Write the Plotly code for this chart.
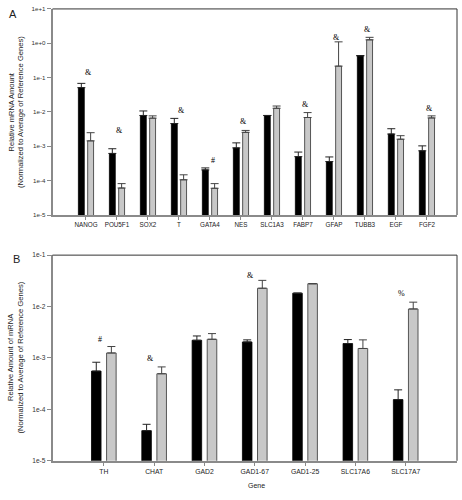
import numpy as np
import plotly.graph_objects as go

# ---------------- data ----------------
genes_a = ["NANOG", "POU5F1", "SOX2", "T", "GATA4", "NES", "SLC1A3", "FABP7",
           "GFAP", "TUBB3", "EGF", "FGF2"]
a_black = [0.051, 6.2e-4, 7.9e-3, 4.6e-3, 2.06e-4, 9.0e-4, 7.9e-3, 5.0e-4,
           3.6e-4, 0.43, 2.28e-3, 7.4e-4]
a_black_err = [0.017, 2.3e-4, 2.8e-3, 1.9e-3, 2.9e-5, 3.6e-4, 0.0, 1.8e-4,
               1.3e-4, 0.01, 9.7e-4, 2.9e-4]
a_grey = [1.44e-3, 6.1e-5, 6.6e-3, 1.06e-4, 6.0e-5, 2.55e-3, 1.28e-2, 6.9e-3,
          0.216, 1.26, 1.61e-3, 6.7e-3]
a_grey_err = [1.05e-3, 2.1e-5, 1.1e-3, 4.2e-5, 2.2e-5, 3.5e-4, 2.1e-3, 2.7e-3,
              0.884, 0.23, 4.3e-4, 1.0e-3]
sig_a = ["&", "&", "", "&", "#", "&", "", "&", "&", "&", "", "&"]
sig_a_y = [0.138, 2.84e-3, None, 1.1e-2, 3.74e-4, 5.4e-3, None, 1.63e-2,
           1.47, 2.44, None, 1.26e-2]

genes_b = ["TH", "CHAT", "GAD2", "GAD1-67", "GAD1-25", "SLC17A6", "SLC17A7"]
b_black = [5.56e-4, 3.86e-5, 2.21e-3, 2.05e-3, 1.82e-2, 1.91e-3, 1.55e-4]
b_black_err = [2.7e-4, 1.27e-5, 4.7e-4, 2.0e-4, 0.0, 3.7e-4, 8.5e-5]
b_grey = [1.25e-3, 4.93e-4, 2.31e-3, 2.27e-2, 2.78e-2, 1.53e-3, 8.97e-3]
b_grey_err = [4.2e-4, 1.77e-4, 6.7e-4, 9.6e-3, 0.0, 7.2e-4, 3.2e-3]
sig_b = ["#", "&", "", "&", "", "", "%"]
sig_b_y = [2.24e-3, 9.6e-4, None, 3.95e-2, None, None, 1.82e-2]

ytick_a = ["1e-5", "1e-4", "1e-3", "1e-2", "1e-1", "1e+0", "1e+1"]
ytick_b = ["1e-5", "1e-4", "1e-3", "1e-2", "1e-1"]

# ---------------- figure ----------------
W, H = 462, 500
FONT = "Liberation Sans, Arial, sans-serif"
fig = go.Figure()

BW = 0.19
OFF_BLACK = -0.245
OFF_GREY = 0.055


def add_pair(xa, ya, genes, black, black_err, grey, grey_err):
    x = list(range(len(genes)))
    fig.add_trace(go.Bar(
        x=x, y=black, width=BW, offset=OFF_BLACK,
        marker=dict(color="#000000", line=dict(color="#000000", width=0.8)),
        error_y=dict(type="data", array=black_err, symmetric=False,
                     arrayminus=[0] * len(black), color="#222222",
                     thickness=1, width=4),
        xaxis=xa, yaxis=ya, showlegend=False))
    fig.add_trace(go.Bar(
        x=x, y=grey, width=BW, offset=OFF_GREY,
        marker=dict(color="#c8c8c8", line=dict(color="#555555", width=1)),
        error_y=dict(type="data", array=grey_err, symmetric=False,
                     arrayminus=[0] * len(grey), color="#444444",
                     thickness=1, width=4),
        xaxis=xa, yaxis=ya, showlegend=False))


add_pair("x", "y", genes_a, a_black, a_black_err, a_grey, a_grey_err)
add_pair("x2", "y2", genes_b, b_black, b_black_err, b_grey, b_grey_err)

xl, xr = 52.5 / W, 457 / W
a_top, a_bot = 1 - 5 / H, 1 - 214 / H
b_top, b_bot = 1 - 254.7 / H, 1 - 463.3 / H

axis_common = dict(showgrid=False, zeroline=False, showline=True,
                   linecolor="#8a8a8a", linewidth=1.5, ticks="outside",
                   tickcolor="#8a8a8a", tickwidth=1)

fig.update_layout(
    width=W, height=H, margin=dict(l=0, r=0, t=0, b=0),
    paper_bgcolor="white", plot_bgcolor="white", barmode="overlay",
    font=dict(family=FONT, color="#222222"),
    xaxis=dict(domain=[xl, xr], anchor="y", range=[-1.08, 11.97],
               tickvals=list(range(len(genes_a))), ticktext=genes_a,
               ticklen=3, tickfont=dict(size=6.3, color="#222"), **axis_common),
    yaxis=dict(domain=[a_bot, a_top], anchor="x", type="log", range=[-5, 1],
               tickvals=[10.0 ** k for k in range(-5, 2)], ticktext=ytick_a,
               ticklen=4, tickfont=dict(size=6.2, color="#333"), **axis_common),
    xaxis2=dict(domain=[xl, xr], anchor="y2", range=[-1.02, 7.02],
                tickvals=list(range(len(genes_b))), ticktext=genes_b,
                ticklen=3, tickfont=dict(size=6.8, color="#222"), **axis_common),
    yaxis2=dict(domain=[b_bot, b_top], anchor="x2", type="log", range=[-5, -1],
                tickvals=[10.0 ** k for k in range(-5, 0)], ticktext=ytick_b,
                ticklen=4, tickfont=dict(size=6.6, color="#333"), **axis_common),
)

# top/right frame lines
for (yb, yt) in [(a_bot, a_top), (b_bot, b_top)]:
    fig.add_shape(type="line", xref="paper", yref="paper", x0=xl, x1=xr,
                  y0=yt, y1=yt, line=dict(color="#333333", width=1))
    fig.add_shape(type="line", xref="paper", yref="paper", x0=xr, x1=xr,
                  y0=yb, y1=yt, line=dict(color="#333333", width=1))

# significance marks
for i, (s, v) in enumerate(zip(sig_a, sig_a_y)):
    if s and v is not None:
        fig.add_annotation(x=i, y=np.log10(v), xref="x", yref="y", text=s,
                           showarrow=False, xshift=3,
                           xanchor="center", yanchor="middle",
                           font=dict(family="Liberation Serif, serif",
                                     size=8, color="#000000"))
for i, (s, v) in enumerate(zip(sig_b, sig_b_y)):
    if s and v is not None:
        fig.add_annotation(x=i, y=np.log10(v), xref="x2", yref="y2", text=s,
                           showarrow=False, xshift=-4,
                           xanchor="center", yanchor="middle",
                           font=dict(family="Liberation Serif, serif",
                                     size=8, color="#000000"))

# axis titles and panel letters
def paper_text(x_px, y_px, text, size, angle=0, **kw):
    fig.add_annotation(x=x_px / W, y=1 - y_px / H, xref="paper", yref="paper",
                       text=text, showarrow=False, textangle=angle,
                       xanchor="center", yanchor="middle",
                       font=dict(family=FONT, size=size, color="#222"), **kw)

paper_text(11, 110, "Relative mRNA Amount", 7.5, -90)
paper_text(20.5, 110, "(Normalized to Average of Reference Genes)", 7.6, -90)
paper_text(11, 359, "Relative Amount of mRNA", 7.5, -90)
paper_text(20.5, 359, "(Normalized to Average of Reference Genes)", 7.6, -90)
paper_text(13, 10, "A", 11)
paper_text(16, 259, "B", 11)
paper_text(256, 488, "Gene", 7)

fig.write_html(
    "out.html",
    config={"displayModeBar": False},
    post_script="document.body.style.margin='0';document.body.style.overflow='hidden';",
)
